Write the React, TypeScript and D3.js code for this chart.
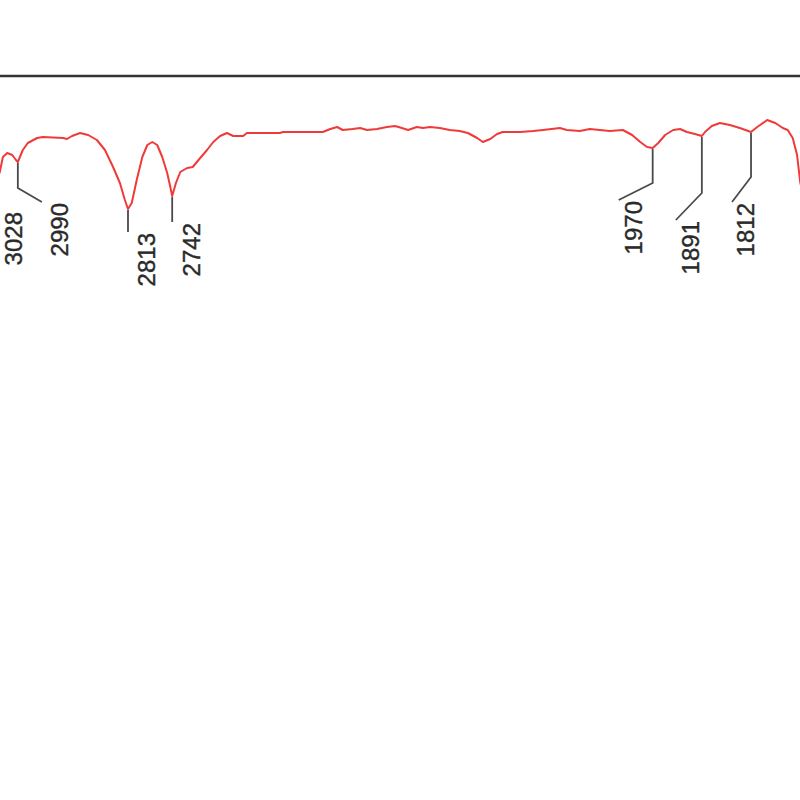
import React, { useLayoutEffect } from "react";
import * as d3 from "d3";

// Spectrum: wavenumber (cm-1) and transmittance (%)
const wavenumbers = [
  3043, 3028, 3019, 3014, 3007, 2999, 2993, 2990, 2982, 2974, 2959, 2950, 2917, 2911, 2903, 2890, 2877, 2863,
  2850, 2837, 2826, 2818, 2813, 2807, 2799, 2790, 2782, 2774, 2766, 2758, 2750, 2745, 2742, 2736, 2729, 2718,
  2709, 2697, 2686, 2676, 2665, 2654, 2644, 2628, 2622, 2569, 2564, 2500, 2488, 2477, 2468, 2452, 2440, 2429,
  2413, 2397, 2384, 2373, 2363, 2349, 2339, 2328, 2312, 2296, 2280, 2267, 2252, 2243, 2231, 2220, 2211, 2183,
  2162, 2146, 2119, 2108, 2087, 2071, 2055, 2039, 2018, 2003, 1990, 1979, 1970, 1961, 1950, 1937, 1926, 1915,
  1902, 1891, 1886, 1875, 1862, 1846, 1830, 1812, 1802, 1786, 1773, 1761, 1753, 1745, 1738, 1733, 1725,
];
const transmittance = [
  53, 44, 52, 59.5, 61.5, 60.5, 58, 57, 63, 66.5, 69, 69.5, 69, 68.5, 70, 71.5, 70.5, 68,
  63, 54.5, 46.5, 38, 33.5, 36.5, 48, 59.5, 65.5, 67, 65.5, 59.5, 51.5, 44.5, 40, 46.5, 52, 54,
  54.5, 59, 63, 67, 70, 71.5, 70, 70, 71.5, 71.5, 72, 72, 73.5, 74.5, 73, 73.5, 74, 73,
  73.5, 74.5, 75, 74, 73, 74.5, 74, 74.5, 74, 73, 72.5, 71.5, 69, 67, 68.5, 71, 72, 72,
  72.5, 73, 74, 73, 72.5, 73.5, 73, 72.5, 73, 70.5, 67, 64.5, 64, 66.5, 70.5, 73, 73.5, 72,
  71, 70, 72, 75, 76.5, 75.5, 74, 72, 74.5, 78, 76.5, 74, 73, 69, 60.5, 47, 35.5,
];

// Peak annotations
const peakWavenumbers = [3028, 2990, 2813, 2742, 1970, 1891, 1812];
const peakLabels = ["3028", "2990", "2813", "2742", "1970", "1891", "1812"];

// Leader geometry (layout, in px): knee y, end dx from peak, end y
const leaderKneeY = [200, 188, 232, 222, 183, 193, 177];
const leaderEndDx = [3, 24, 0, 0, -34, -26, -19];
const leaderEndY = [211, 202, 232, 222, 200, 220, 202];
const labelDx = [16, 18, 18, 19, 15, 15, 13];

const W = 800;
const H = 800;

export default function App() {
  useLayoutEffect(() => {
    document.body.style.margin = "0";
  }, []);

  const x = d3.scaleLinear().domain([3018.66, 1733.3]).range([0, W]);
  const y = d3.scaleLinear().domain([0, 100]).range([276, 76]);

  const pts = wavenumbers.map((w, i) => [w, transmittance[i]] as [number, number]);
  const line = d3
    .line<[number, number]>()
    .x((d) => x(d[0]))
    .y((d) => y(d[1]))
    .curve(d3.curveLinear);

  return (
    <svg width={W} height={H} style={{ display: "block", background: "#fff" }}>
      <line x1={0} x2={W} y1={76} y2={76} stroke="#333" strokeWidth={2.6} />
      <path d={line(pts) || ""} fill="none" stroke="#f03a3a" strokeWidth={2} strokeLinejoin="round" />
      {peakWavenumbers.map((pw, i) => {
        const idx = wavenumbers.indexOf(pw);
        const px = x(pw);
        const py = y(transmittance[idx]) + 1;
        const ex = px + leaderEndDx[i];
        const ey = leaderEndY[i];
        const lx = ex + labelDx[i];
        const ly = ey + 1;
        return (
          <g key={pw}>
            <polyline
              points={`${px},${py} ${px},${leaderKneeY[i]} ${ex},${ey}`}
              fill="none"
              stroke="#4a4a4a"
              strokeWidth={1.8}
            />
            <text
              transform={`translate(${lx},${ly}) rotate(-90)`}
              textAnchor="end"
              dy="0.36em"
              fontFamily="'Liberation Sans', Arial, sans-serif"
              fontSize={24}
              fill="#2a2a2a"
              stroke="#2a2a2a"
              strokeWidth={0.4}
            >
              {peakLabels[i]}
            </text>
          </g>
        );
      })}
    </svg>
  );
}
